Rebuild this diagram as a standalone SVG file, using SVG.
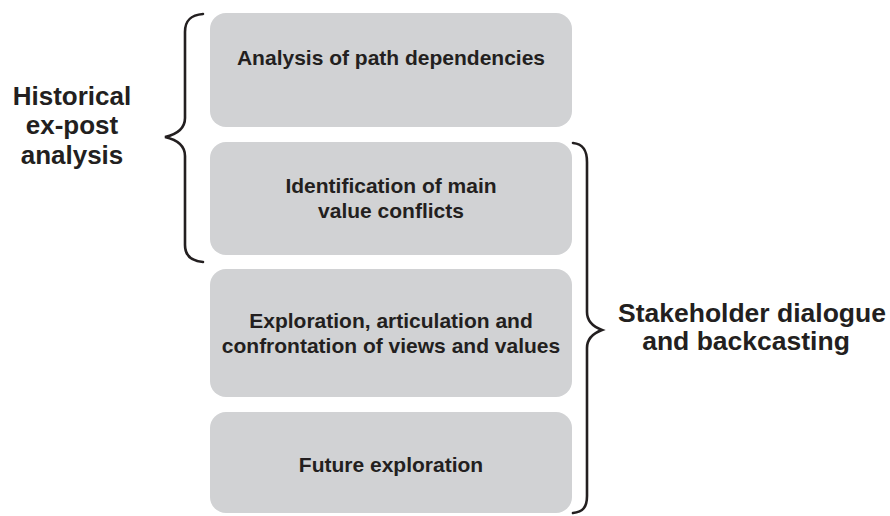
<svg xmlns="http://www.w3.org/2000/svg" width="890" height="516" viewBox="0 0 890 516">
<style>
.box{fill:#d1d2d4;}
.t{font-family:"Liberation Sans",Arial,sans-serif;font-weight:bold;fill:#231f20;text-anchor:middle;}
.bt{font-size:21px;}
.lt{font-size:26px;}
.rt{font-size:26.5px;}
.brace{fill:none;stroke:#231f20;stroke-width:2.6;stroke-linecap:round;}
</style>
<rect width="890" height="516" fill="#ffffff"/>
<g id="node-analysis">
<rect class="box" x="210" y="13" width="362" height="114" rx="16"/>
<text class="t bt" x="391" y="65">Analysis of path dependencies</text>
</g>
<g id="node-identification">
<rect class="box" x="210" y="142" width="362" height="113" rx="16"/>
<text class="t bt" x="391" y="193">Identification of main</text>
<text class="t bt" x="391" y="218">value conflicts</text>
</g>
<g id="node-exploration">
<rect class="box" x="210" y="269" width="362" height="128" rx="16"/>
<text class="t bt" x="391" y="328">Exploration, articulation and</text>
<text class="t bt" x="391" y="353">confrontation of views and values</text>
</g>
<g id="node-future">
<rect class="box" x="210" y="412" width="362" height="101" rx="16"/>
<text class="t bt" x="391" y="472">Future exploration</text>
</g>
<g id="label-historical">
<text class="t lt" x="72" y="105">Historical</text>
<text class="t lt" x="72" y="134">ex-post</text>
<text class="t lt" x="72" y="164">analysis</text>
</g>
<g id="label-stakeholder">
<text class="t rt" x="752" y="322">Stakeholder dialogue</text>
<text class="t rt" x="746" y="350">and backcasting</text>
</g>
<g id="connectors">
<path class="brace" d="M203,14 C191,15 185,20 185,32 L185,118 C185,128 178,134 165,137 C178,140 185,146 185,156 L185,245 C185,256 191,261 203,262"/>
<path class="brace" d="M573,143 C583,144 587,150 587,162 L587,312 C587,322 594,327 602,330 C594,333 587,338 587,348 L587,496 C587,507 583,512 573,513"/>
</g>
</svg>
